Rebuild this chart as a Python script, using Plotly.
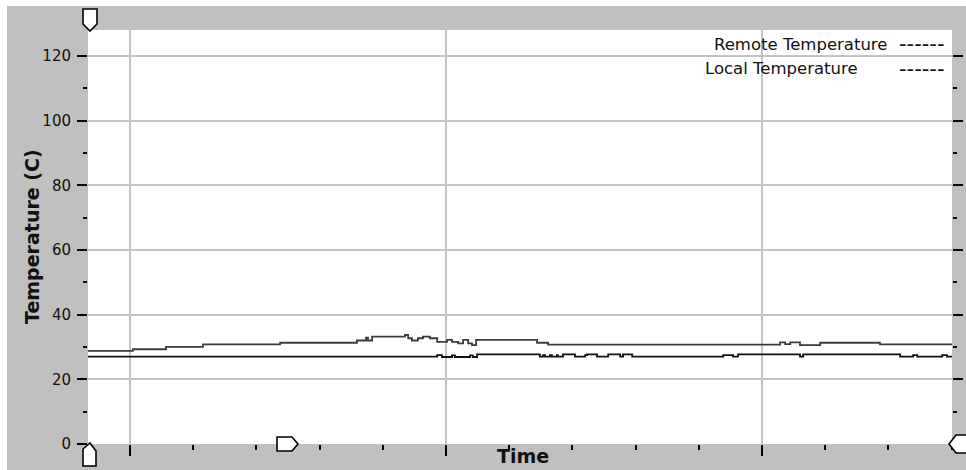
import plotly.graph_objects as go

# ---- data (time in sample units, temperature in C) ----
remote_time = [-13.3, 0.9, 11.4, 23.1, 47.5, 71.8, 74.7, 75.3, 76.6, 87.0, 88.0, 89.2,
               91.1, 92.7, 94.9, 97.2, 100.3, 101.9, 103.8, 105.4, 107.0, 108.2, 109.5,
               128.8, 132.3, 205.7, 207.3, 208.9, 212.0, 218.4, 237.3, 260.1]
remote_temp = [28.8, 29.3, 30.0, 30.8, 31.3, 32.0, 32.9, 32.0, 33.2, 33.7, 32.7, 32.0,
               32.7, 33.2, 32.7, 31.6, 32.2, 31.6, 31.1, 32.2, 31.1, 30.6, 32.2,
               31.3, 30.7, 31.4, 30.9, 31.4, 30.6, 31.3, 30.8, 30.8]

local_time = [-13.3, 97.2, 98.7, 101.9, 102.8, 107.6, 108.5, 109.8, 129.7, 130.7, 131.3,
              132.9, 133.5, 135.1, 135.4, 137.0, 140.8, 144.0, 144.6, 147.8, 151.3, 155.1,
              156.0, 158.9, 187.7, 190.8, 192.4, 212.0, 213.0, 243.7, 247.8, 249.1,
              257.0, 258.5, 260.1]
local_temp = [27.0, 27.5, 26.9, 27.4, 26.9, 27.4, 26.9, 27.7, 27.0, 27.5, 27.0,
              27.5, 27.0, 27.5, 27.0, 27.7, 27.0, 27.5, 27.7, 27.0, 27.7, 27.0,
              27.7, 27.0, 27.5, 27.0, 27.7, 27.0, 27.7, 27.0, 27.5, 27.0,
              27.5, 27.0, 27.0]

series_names = ["Remote Temperature", "Local Temperature"]
y_title = "Temperature (C)"
x_title = "Time"
x_range = [-13.3, 260.1]
y_range = [0, 128]

# ---- layout geometry ----
W, H = 966, 470
ML, MR, MT, MB = 88, 14, 30, 26
PW, PH = W - ML - MR, H - MT - MB

def xp(px):
    return (px - ML) / PW

def yp(py):
    return (H - MB - py) / PH

GRAY = "#c0c0c0"
FONT = "DejaVu Sans"

fig = go.Figure()
fig.add_trace(go.Scatter(x=remote_time, y=remote_temp, mode="lines", name=series_names[0],
                         line=dict(shape="hv", color="#3c3c3c", width=1.8)))
fig.add_trace(go.Scatter(x=local_time, y=local_temp, mode="lines", name=series_names[1],
                         line=dict(shape="hv", color="#111111", width=1.8)))

fig.update_layout(
    width=W, height=H,
    margin=dict(l=ML, r=MR, t=MT, b=MB, pad=0),
    paper_bgcolor=GRAY, plot_bgcolor="white",
    showlegend=False,
    font=dict(family=FONT, size=15, color="#111111"),
    xaxis=dict(range=x_range, showticklabels=False, tick0=0, dtick=100,
               ticks="outside", ticklen=11, tickwidth=1.6, tickcolor="black",
               showgrid=True, gridcolor="#c4c4c4", gridwidth=1.5, zeroline=False,
               showline=False,
               minor=dict(dtick=20, ticks="outside", ticklen=5, tickwidth=1.6,
                          tickcolor="black", showgrid=False)),
    yaxis=dict(range=y_range, tick0=0, dtick=20,
               ticks="outside", ticklen=10, tickwidth=1.6, tickcolor="black",
               showgrid=True, gridcolor="#c4c4c4", gridwidth=1.5, zeroline=False,
               showline=False, mirror="ticks", ticklabelstandoff=3,
               tickfont=dict(family=FONT, size=15, color="#111111"),
               minor=dict(dtick=10, ticks="outside", ticklen=4, tickwidth=1.6,
                          tickcolor="black", showgrid=False)),
)

shapes = []
# white outer border strips (top and left)
shapes.append(dict(type="rect", xref="paper", yref="paper", layer="below",
                   x0=xp(-5), x1=xp(W + 5), y0=yp(6), y1=yp(-5),
                   fillcolor="white", line=dict(width=0)))
shapes.append(dict(type="rect", xref="paper", yref="paper", layer="below",
                   x0=xp(-5), x1=xp(7), y0=yp(H + 5), y1=yp(-5),
                   fillcolor="white", line=dict(width=0)))

def poly(points):
    d = "M " + " L ".join(f"{xp(a):.5f},{yp(b):.5f}" for a, b in points) + " Z"
    return dict(type="path", xref="paper", yref="paper", path=d, layer="above",
                fillcolor="white", line=dict(color="black", width=1.6))

# cursor markers
shapes.append(poly([(83, 9), (97, 9), (97, 24), (90, 31), (83, 24)]))
shapes.append(poly([(83, 466), (96, 466), (96, 451), (90, 443), (83, 449)]))
shapes.append(poly([(277, 437), (292, 437), (298, 444), (292, 451), (277, 451)]))
shapes.append(poly([(968, 435), (956, 435), (949, 444), (956, 453), (968, 453)]))
fig.update_layout(shapes=shapes)

ann = []
ann.append(dict(text=series_names[0], xref="paper", yref="paper", x=xp(889), y=yp(44),
                xanchor="right", yanchor="middle", showarrow=False,
                font=dict(family=FONT, size=16.5, color="#111111")))
ann.append(dict(text=series_names[1], xref="paper", yref="paper", x=xp(703), y=yp(69),
                xanchor="left", yanchor="middle", showarrow=False,
                font=dict(family=FONT, size=16.5, color="#111111")))
for yy in (44, 69):
    ann.append(dict(text="------", xref="paper", yref="paper", x=xp(897), y=yp(yy),
                    xanchor="left", yanchor="middle", showarrow=False,
                    font=dict(family=FONT, size=21, color="#111111")))
ann.append(dict(text=f"<b>{y_title}</b>", xref="paper", yref="paper", x=xp(32), y=yp(237),
                xanchor="center", yanchor="middle", textangle=-90, showarrow=False,
                font=dict(family=FONT, size=19, color="#111111")))
ann.append(dict(text=f"<b>{x_title}</b>", xref="paper", yref="paper", x=xp(523), y=yp(456),
                xanchor="center", yanchor="middle", showarrow=False,
                font=dict(family=FONT, size=19, color="#111111")))
fig.update_layout(annotations=ann)

fig.write_html("out.html", config={"displayModeBar": False},
               post_script="document.body.style.margin='0';document.body.style.overflow='hidden';")
